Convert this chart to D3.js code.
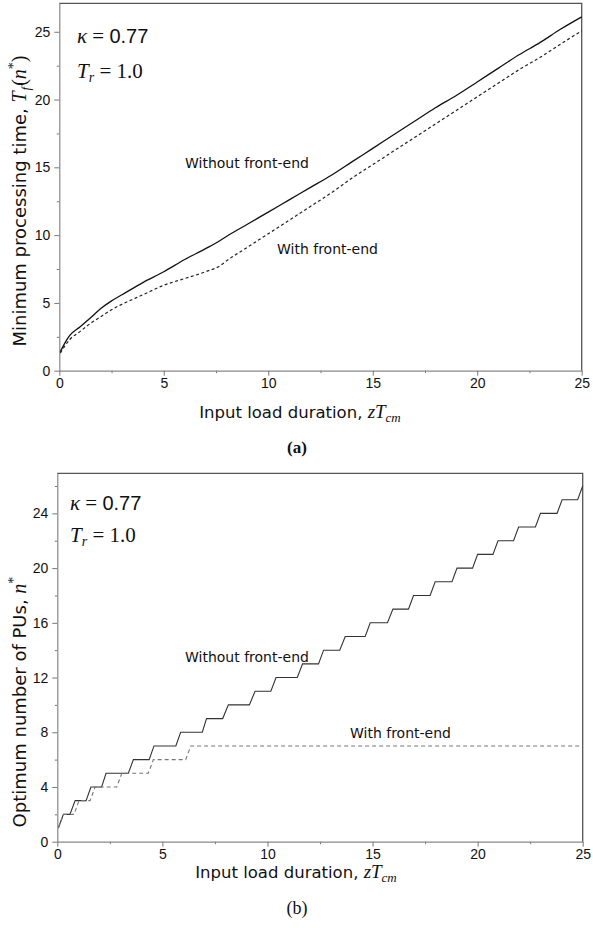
<!DOCTYPE html>
<html>
<head>
<meta charset="utf-8">
<script src="https://cdn.jsdelivr.net/npm/d3@7"></script>
<style>
  body { margin: 0; background: #fff; }
  text { fill: #111; }
  .tick text { font-family: "Liberation Sans", Arial, sans-serif; font-size: 14px; fill: #111; }
  .title { font-family: "DejaVu Sans", sans-serif; font-size: 16.5px; }
  .ytitle { font-family: "DejaVu Sans", sans-serif; font-size: 18px; }
  .math { font-family: "Liberation Serif", serif; font-style: italic; }
  .rm { font-family: "Liberation Serif", serif; font-style: normal; }
  .lbl { font-family: "DejaVu Sans", sans-serif; font-size: 14px; }
</style>
</head>
<body>
<div id="chart"></div>
<script>
// constants
const w = 593,
      h = 928;

// ---- data, panel (a): minimum processing time
const loadA = [0.05, 0.25, 0.5, 1, 1.5, 2, 2.5, 3, 4, 5, 6, 7, 7.7, 8, 9, 10, 11, 12, 13, 14, 15, 16, 17, 18, 19, 20, 21, 22, 23, 24, 25];
const timeWithout = [1.4, 2.0, 2.6, 3.25, 3.9, 4.6, 5.15, 5.6, 6.5, 7.3, 8.2, 9.0, 9.6, 9.9, 10.8, 11.7, 12.6, 13.5, 14.4, 15.4, 16.4, 17.4, 18.4, 19.4, 20.3, 21.3, 22.3, 23.3, 24.2, 25.2, 26.1];
const timeWith = [1.3, 1.8, 2.3, 2.9, 3.5, 4.0, 4.5, 4.9, 5.6, 6.3, 6.8, 7.3, 7.75, 8.1, 9.1, 10.1, 11.1, 12.1, 13.1, 14.2, 15.2, 16.2, 17.2, 18.2, 19.2, 20.2, 21.2, 22.2, 23.1, 24.1, 25.07];

// ---- data, panel (b): optimum number of PUs (start / end of each riser)
const riseStartWithout = [0.05, 0.60, 1.37, 2.11, 3.38, 4.37, 5.64, 6.90, 7.87, 9.14, 10.16, 11.42, 12.43, 13.44, 14.65, 15.71, 16.71, 17.74, 18.78, 19.76, 20.73, 21.71, 22.75, 23.78, 24.76];
const riseEndWithout   = [0.29, 0.85, 1.60, 2.32, 3.62, 4.60, 5.87, 7.10, 8.14, 9.41, 10.41, 11.67, 12.67, 13.70, 14.89, 15.97, 16.95, 17.98, 19.02, 20.00, 20.97, 21.95, 22.99, 24.02, 25.00];
const riseStartWith = [0.05, 0.80, 1.56, 2.83, 4.33, 6.11];
const riseEndWith   = [0.30, 1.03, 1.80, 3.07, 4.57, 6.35];
const firstN = 1;
const loadMax = 25;

// ticks
const xTicks = [0, 5, 10, 15, 20, 25],
      xMinor = [2.5, 7.5, 12.5, 17.5, 22.5],
      yTicksA = [0, 5, 10, 15, 20, 25],
      yMinorA = [2.5, 7.5, 12.5, 17.5, 22.5],
      yTicksB = [0, 4, 8, 12, 16, 20, 24],
      yMinorB = [2, 6, 10, 14, 18, 22, 26];

let svg = d3.select("#chart")
            .append("svg")
            .attr("width", w)
            .attr("height", h);

svg.append("rect").attr("width", w).attr("height", h).attr("fill", "#fff");

// build step points from the riser arrays
function steps(starts, ends, xEnd) {
  let pts = [[starts[0], firstN]];
  ends.forEach((e, i) => {
    pts.push([e, firstN + i + 1]);
    if (i + 1 < starts.length) pts.push([starts[i + 1], firstN + i + 1]);
  });
  if (xEnd > ends[ends.length - 1]) pts.push([xEnd, firstN + ends.length]);
  return pts;
}

function panel(opt) {
  let x = d3.scaleLinear().domain([0, loadMax]).range([opt.l, opt.r]);
  let y = d3.scaleLinear().domain([0, opt.ymax]).range([opt.b, opt.t]);
  let g = svg.append("g");

  // frame (top + right)
  g.append("path")
   .attr("d", `M${opt.l},${opt.t}H${opt.r}V${opt.b}`)
   .attr("fill", "none")
   .attr("stroke", "#555")
   .attr("stroke-width", 1.3);

  // minor ticks
  g.append("g")
   .attr("transform", `translate(0,${opt.b})`)
   .call(d3.axisBottom(x).tickValues(xMinor).tickSize(2.5).tickFormat(""))
   .call(a => a.selectAll("line").attr("stroke", "#777"))
   .call(a => a.select(".domain").remove());
  g.append("g")
   .attr("transform", `translate(${opt.l},0)`)
   .call(d3.axisLeft(y).tickValues(opt.yMinor).tickSize(2.5).tickFormat(""))
   .call(a => a.selectAll("line").attr("stroke", "#777"))
   .call(a => a.select(".domain").remove());

  // major axes
  g.append("g")
   .attr("transform", `translate(0,${opt.b})`)
   .call(d3.axisBottom(x).tickValues(xTicks).tickSize(5).tickSizeOuter(0).tickPadding(2))
   .call(a => a.selectAll("line").attr("stroke", "#777"))
   .call(a => a.select(".domain").attr("stroke", "#888").attr("stroke-width", 1.2));
  g.append("g")
   .attr("transform", `translate(${opt.l},0)`)
   .call(d3.axisLeft(y).tickValues(opt.yTicks).tickSize(5).tickSizeOuter(0).tickPadding(4))
   .call(a => a.selectAll("line").attr("stroke", "#777"))
   .call(a => a.select(".domain").attr("stroke", "#888").attr("stroke-width", 1.2));

  // x title
  let xt = g.append("text")
            .attr("class", "title")
            .attr("x", opt.xtx)
            .attr("y", opt.xty)
            .attr("text-anchor", "middle");
  xt.append("tspan").text("Input load duration, ");
  xt.append("tspan").attr("class", "math").attr("font-size", "19px").text("zT");
  xt.append("tspan").attr("class", "math").attr("font-size", "13px").attr("dy", 4).text("cm");

  // parameter text
  let k = g.append("text").attr("x", opt.kx).attr("y", opt.ky).attr("font-size", "21px");
  k.append("tspan").attr("class", "math").text("κ");
  k.append("tspan").attr("class", "rm").text(" = ");
  k.append("tspan").attr("font-family", "Liberation Sans, sans-serif").attr("font-size", "20px").text("0.77");
  let tr = g.append("text").attr("x", opt.kx).attr("y", opt.ky + opt.kgap).attr("font-size", "21px");
  tr.append("tspan").attr("class", "math").text("T");
  tr.append("tspan").attr("class", "math").attr("font-size", "14px").attr("dy", 4).text("r");
  tr.append("tspan").attr("class", "rm").attr("dy", -4).text(" = 1.0");

  return {x: x, y: y, g: g};
}

// ---------- panel (a)
let A = panel({l: 59.3, r: 581.7, t: 3.3, b: 370.7, ymax: 27.1, yTicks: yTicksA, yMinor: yMinorA,
               xtx: 300, xty: 418, kx: 77, ky: 43, kgap: 35});
let lineA = d3.line().x((d, i) => A.x(loadA[i])).y(d => A.y(d)).curve(d3.curveMonotoneX);

A.g.append("path")
   .datum(timeWithout)
   .attr("d", lineA)
   .attr("fill", "none")
   .attr("stroke", "#111")
   .attr("stroke-width", 1.3);
A.g.append("path")
   .datum(timeWith)
   .attr("d", lineA)
   .attr("fill", "none")
   .attr("stroke", "#222")
   .attr("stroke-width", 1.2)
   .attr("stroke-dasharray", "3,2.5");

A.g.append("text").attr("class", "lbl").attr("x", 185).attr("y", 168).text("Without front-end");
A.g.append("text").attr("class", "lbl").attr("x", 277).attr("y", 254).text("With front-end");

let ya = A.g.append("text")
            .attr("class", "ytitle")
            .attr("transform", "translate(26,201) rotate(-90)")
            .attr("text-anchor", "middle");
ya.append("tspan").text("Minimum processing time, ");
ya.append("tspan").attr("class", "math").attr("font-size", "20px").text("T");
ya.append("tspan").attr("class", "math").attr("font-size", "13px").attr("dx", 1).attr("dy", 4).text("f");
ya.append("tspan").attr("class", "rm").attr("font-size", "20px").attr("dx", 1).attr("dy", -4).text("(");
ya.append("tspan").attr("class", "math").attr("font-size", "20px").text("n");
ya.append("tspan").attr("class", "rm").attr("font-size", "14px").attr("dy", -8).text("*");
ya.append("tspan").attr("class", "rm").attr("font-size", "20px").attr("dy", 8).text(")");

svg.append("text")
   .attr("x", 297).attr("y", 453)
   .attr("text-anchor", "middle")
   .attr("font-family", "Liberation Serif, serif")
   .attr("font-weight", "bold")
   .attr("font-size", "17px")
   .text("(a)");

// ---------- panel (b)
let B = panel({l: 57.3, r: 582.7, t: 473.3, b: 841.7, ymax: 26.93, yTicks: yTicksB, yMinor: yMinorB,
               xtx: 296, xty: 878, kx: 70, ky: 510, kgap: 32});
let lineB = d3.line().x(d => B.x(d[0])).y(d => B.y(d[1]));

B.g.append("path")
   .datum(steps(riseStartWithout, riseEndWithout, loadMax))
   .attr("d", lineB)
   .attr("fill", "none")
   .attr("stroke", "#333")
   .attr("stroke-width", 1.1);
B.g.append("path")
   .datum(steps(riseStartWith, riseEndWith, loadMax))
   .attr("d", lineB)
   .attr("fill", "none")
   .attr("stroke", "#777")
   .attr("stroke-width", 1.1)
   .attr("stroke-dasharray", "4,3");

B.g.append("text").attr("class", "lbl").attr("x", 185).attr("y", 662).text("Without front-end");
B.g.append("text").attr("class", "lbl").attr("x", 350).attr("y", 738).text("With front-end");

let yb = B.g.append("text")
            .attr("class", "ytitle")
            .attr("transform", "translate(26,702) rotate(-90)")
            .attr("text-anchor", "middle");
yb.append("tspan").text("Optimum number of PUs, ");
yb.append("tspan").attr("class", "math").attr("font-size", "20px").text("n");
yb.append("tspan").attr("class", "rm").attr("font-size", "14px").attr("dy", -8).text("*");

svg.append("text")
   .attr("x", 297).attr("y", 914)
   .attr("text-anchor", "middle")
   .attr("font-family", "Liberation Serif, serif")
   .attr("font-size", "18px")
   .text("(b)");
</script>
</body>
</html>
